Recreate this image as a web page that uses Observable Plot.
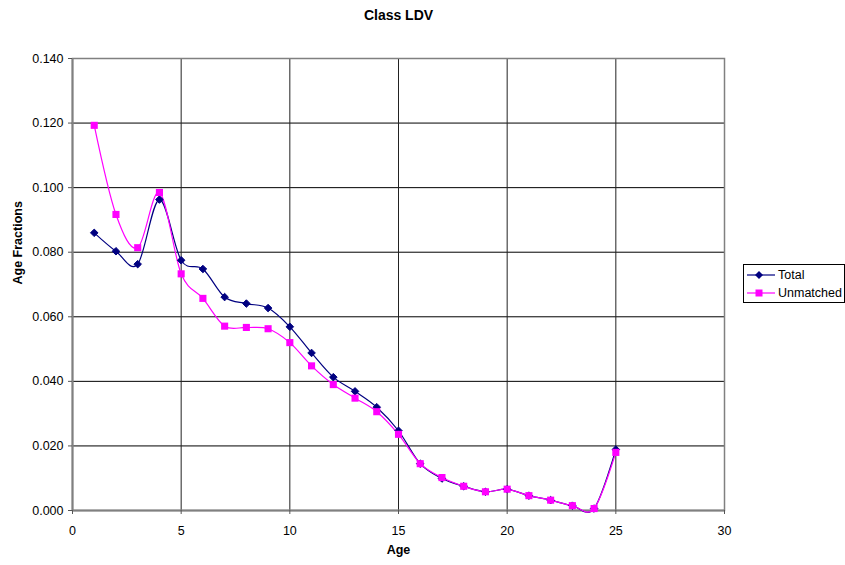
<!DOCTYPE html>
<html>
<head>
<meta charset="utf-8">
<script src="https://cdn.jsdelivr.net/npm/d3@7"></script>
<script src="https://cdn.jsdelivr.net/npm/@observablehq/plot@0.6"></script>
<style>
  html, body { margin: 0; padding: 0; background: #fff; }
  #wrap { position: relative; width: 845px; height: 565px; font-family: "Liberation Sans", Arial, sans-serif; }
  #legend { position: absolute; left: 743px; top: 264px; width: 100px; height: 37px; border: 1px solid #000; background: #fff; font-size: 12.5px; color: #000; }
  #legend .row { position: absolute; left: 0; height: 18px; display: flex; align-items: center; }
  #legend svg { display: block; }
</style>
</head>
<body>
<div id="wrap"></div>
<script>
const ages = [1,2,3,4,5,6,7,8,9,10,11,12,13,14,15,16,17,18,19,20,21,22,23,24,25];
const total = [0.0860,0.0803,0.0763,0.0963,0.0775,0.0748,0.0661,0.0641,0.0627,0.0569,0.0488,0.0413,0.0369,0.0320,0.0247,0.0145,0.0099,0.0075,0.0058,0.0066,0.0046,0.0032,0.0015,0.0006,0.0189];
const unmatched = [0.1193,0.0917,0.0814,0.0985,0.0733,0.0657,0.0571,0.0567,0.0563,0.0520,0.0448,0.0390,0.0348,0.0306,0.0236,0.0145,0.0102,0.0075,0.0058,0.0066,0.0046,0.0032,0.0015,0.0006,0.0180];
const xTicks = [0,5,10,15,20,25,30];
const yTicks = [0,0.02,0.04,0.06,0.08,0.10,0.12,0.14];
const seriesNames = ["Total","Unmatched"];
const seriesColors = ["#000080","#FF00FF"];

const totalData = ages.map((a,i) => ({age:a, value:total[i]}));
const unmatchedData = ages.map((a,i) => ({age:a, value:unmatched[i]}));

const chart = Plot.plot({
  width: 845, height: 565,
  marginLeft: 72, marginRight: 121, marginTop: 58, marginBottom: 55,
  style: {fontFamily: "'Liberation Sans', Arial, sans-serif", fontSize: "12px", color: "#000", background: "#fff", overflow: "visible"},
  x: {domain: [0,30], label: null},
  y: {domain: [0,0.14], label: null},
  marks: [
    Plot.ruleY(yTicks.slice(1), {stroke: "#000", strokeWidth: 1}),
    Plot.ruleX(xTicks.slice(1,-1), {stroke: "#222", strokeWidth: 1}),
    Plot.frame({stroke: "#808080", strokeWidth: 1.5}),
    Plot.ruleX([0], {stroke: "#808080", strokeWidth: 2}),
    Plot.ruleY([0], {stroke: "#808080", strokeWidth: 2}),
    Plot.axisX({ticks: xTicks, tickSize: 4, tickPadding: 12, tickFormat: d3.format("d"), stroke: "#555", fontSize: 12.5, label: null}),
    Plot.axisY({ticks: yTicks, tickSize: 4, tickPadding: 5, tickFormat: d3.format(".3f"), stroke: "#555", fontSize: 12.5, label: null}),
    Plot.line(totalData, {x: "age", y: "value", stroke: seriesColors[0], strokeWidth: 1.2, curve: "catmull-rom", tension: 0}),
    Plot.line(unmatchedData, {x: "age", y: "value", stroke: seriesColors[1], strokeWidth: 1.2, curve: "catmull-rom", tension: 0}),
    Plot.dot(totalData, {x: "age", y: "value", symbol: "diamond2", fill: seriesColors[0], stroke: seriesColors[0], strokeWidth: 1, r: 3.4}),
    Plot.dot(unmatchedData, {x: "age", y: "value", symbol: "square", fill: seriesColors[1], r: 4}),
    Plot.text(["Class LDV"], {frameAnchor: "top", lineAnchor: "middle", dy: -43, fontWeight: "bold", fontSize: 14}),
    Plot.text(["Age Fractions"], {frameAnchor: "left", dx: -55, rotate: -90, fontWeight: "bold", fontSize: 12.5}),
    Plot.text(["Age"], {frameAnchor: "bottom", lineAnchor: "middle", dy: 39, fontWeight: "bold", fontSize: 12.5})
  ]
});

const wrap = document.getElementById("wrap");
wrap.appendChild(chart);

const legend = document.createElement("div");
legend.id = "legend";
const symbols = ["diamond","square"];
seriesNames.forEach((name, i) => {
  const row = document.createElement("div");
  row.className = "row";
  row.style.top = (1 + i*18) + "px";
  const color = seriesColors[i];
  const marker = symbols[i] === "diamond"
    ? `<path d="M15,5 L19,9 L15,13 L11,9 Z" fill="${color}"/>`
    : `<rect x="11.5" y="5.5" width="7" height="7" fill="${color}"/>`;
  row.innerHTML = `<svg width="34" height="18"><line x1="3" x2="31" y1="9" y2="9" stroke="${color}" stroke-width="1.2"/>${marker}</svg><span>${name}</span>`;
  legend.appendChild(row);
});
wrap.appendChild(legend);
</script>
</body>
</html>
